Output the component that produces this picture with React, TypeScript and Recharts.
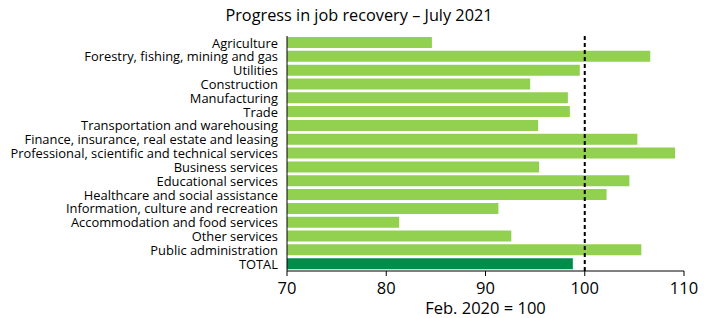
import { Bar, BarChart, Cell, ReferenceLine, XAxis, YAxis } from 'recharts';

const sectors = [
  'Agriculture',
  'Forestry, fishing, mining and gas',
  'Utilities',
  'Construction',
  'Manufacturing',
  'Trade',
  'Transportation and warehousing',
  'Finance, insurance, real estate and leasing',
  'Professional, scientific and technical services',
  'Business services',
  'Educational services',
  'Healthcare and social assistance',
  'Information, culture and recreation',
  'Accommodation and food services',
  'Other services',
  'Public administration',
  'TOTAL',
];

const recovery = [84.6, 106.6, 99.5, 94.5, 98.3, 98.5, 95.3, 105.3, 109.1, 95.4, 104.5, 102.2, 91.3, 81.3, 92.6, 105.7, 98.8];

const xTicks = [70, 80, 90, 100, 110];

const data = sectors.map((name, i) => ({ name, value: recovery[i] }));

const font = '"Open Sans", sans-serif';

// plain text tick so long sector names never wrap
function SectorTick(props: any) {
  const { x, y, payload } = props;
  return (
    <text x={x} y={y} dy="0.36em" textAnchor="end" fill="#000" fontSize={12.9} fontFamily={font}>
      {payload.value}
    </text>
  );
}

export default function App() {
  return (
    <div style={{ position: 'absolute', left: 0, top: 0, width: 712, height: 318, background: '#fff', fontFamily: font }}>
      <div
        style={{
          position: 'absolute',
          left: 0,
          width: 718,
          top: 4,
          textAlign: 'center',
          fontSize: 16.3,
          color: '#000',
        }}
      >
        Progress in job recovery – July 2021
      </div>
      <BarChart
        width={712}
        height={318}
        data={data}
        layout="vertical"
        margin={{ top: 36, right: 28, bottom: 0, left: 0 }}
      >
        <XAxis
          type="number"
          domain={[70, 110]}
          ticks={xTicks}
          allowDataOverflow
          axisLine={{ stroke: '#000' }}
          tickLine={{ stroke: '#000' }}
          tickSize={5}
          tickMargin={6}
          height={47}
          tick={{ fill: '#000', fontSize: 16.5, fontFamily: font }}
          label={{ value: 'Feb. 2020 = 100', position: 'insideBottom', offset: 4, fill: '#000', fontSize: 16.5, fontFamily: font }}
        />
        <YAxis
          type="category"
          dataKey="name"
          width={287}
          axisLine={{ stroke: '#000' }}
          tickLine={false}
          tickSize={0}
          tickMargin={9}
          interval={0}
          tick={<SectorTick />}
        />
        <Bar dataKey="value" barSize={11} isAnimationActive={false}>
          {data.map((d) => (
            <Cell key={d.name} fill={d.name === 'TOTAL' ? '#008C4A' : '#92D050'} />
          ))}
        </Bar>
        <ReferenceLine x={100} stroke="#000" strokeWidth={2} strokeDasharray="4 3" />
      </BarChart>
    </div>
  );
}
